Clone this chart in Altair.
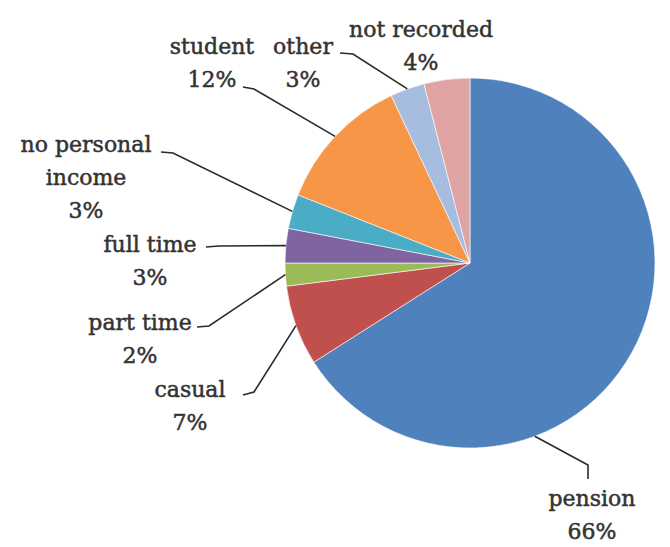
import altair as alt
import pandas as pd
import numpy as np

# ---- data ----
categories = ["pension", "casual", "part time", "full time",
              "no personal income", "student", "other", "not recorded"]
values = [66, 7, 2, 3, 3, 12, 3, 4]
label_names = [["pension"], ["casual"], ["part time"], ["full time"],
               ["no personal", "income"], ["student"], ["other"], ["not recorded"]]

# ---- styles / layout ----
colors = ["#4F81BD", "#C0504D", "#9BBB59", "#8064A2",
          "#4BACC6", "#F79646", "#A7BDE0", "#E0A3A3"]
W, H = 654, 537
CX, CY, R = 470, 263, 185          # page coords of pie centre, radius
LINE_H = 33
label_pos = [(592, 499), (190, 390), (140, 323), (150, 245),
             (86, 145), (212, 47), (303, 47), (421, 30)]
# leader stubs near the labels (None = no leader)
stubs = [None, [(243, 395), (254, 392)], [(197, 327), (209, 326)],
         [(206, 247), (219, 246)], [(161, 152), (173, 153)],
         [(243, 87), (254, 89)], [(340, 53), (353, 54)], None]
pension_anchor_angle = 159.5
pension_leader = [(588, 465), (588, 479)]

# ---- derived ----
total = sum(values)
cum = np.cumsum([0] + values)
mid_angles = [(cum[i] + values[i] / 2) / total * 360 for i in range(len(values))]


def edge_point(angle_deg):
    a = np.radians(angle_deg)
    return CX + R * np.sin(a), CY - R * np.cos(a)


pie_df = pd.DataFrame({"category": categories, "value": values,
                       "order": list(range(len(categories)))})

text_rows = []
for i, (names, v) in enumerate(zip(label_names, values)):
    lines = names + [f"{v}%"]
    x0, y0 = label_pos[i]
    for j, t in enumerate(lines):
        text_rows.append({"text": t, "x": x0, "y": y0 + j * LINE_H})
text_df = pd.DataFrame(text_rows)

line_rows = []
for i, st in enumerate(stubs):
    if st is None:
        continue
    pts = list(st) + [edge_point(mid_angles[i])]
    for k, (px, py) in enumerate(pts):
        line_rows.append({"cat": categories[i], "k": k, "x": px, "y": py})
pts = [edge_point(pension_anchor_angle)] + pension_leader
for k, (px, py) in enumerate(pts):
    line_rows.append({"cat": "pension", "k": k, "x": px, "y": py})
line_df = pd.DataFrame(line_rows)

xs = alt.Scale(domain=[8, 8 + W], range=[0, W], nice=False, zero=False)
ys = alt.Scale(domain=[8, 8 + H], range=[0, H], nice=False, zero=False)

pie = alt.Chart(pie_df).mark_arc(outerRadius=R, stroke="white", strokeWidth=0.6).encode(
    theta=alt.Theta("value:Q", stack=True),
    order=alt.Order("order:Q"),
    color=alt.Color("category:N", scale=alt.Scale(domain=categories, range=colors), legend=None),
    x=alt.value(CX - 8),
    y=alt.value(CY - 8),
)

leaders = alt.Chart(line_df).mark_line(color="#2a2a2a", strokeWidth=1.6).encode(
    x=alt.X("x:Q", scale=xs, axis=None),
    y=alt.Y("y:Q", scale=ys, axis=None),
    detail="cat:N",
    order="k:Q",
)

labels = alt.Chart(text_df).mark_text(
    font="DejaVu Serif", fontSize=22, color="#333333", stroke="#333333", strokeWidth=0.5,
    align="center", baseline="middle"
).encode(
    x=alt.X("x:Q", scale=xs, axis=None),
    y=alt.Y("y:Q", scale=ys, axis=None),
    text="text:N",
)

chart = alt.layer(pie, leaders, labels).properties(
    width=W, height=H, padding=0, autosize=alt.AutoSizeParams(type="none")
).configure_view(stroke=None)

chart.save("out.html", embed_options={"renderer": "svg", "actions": False})
